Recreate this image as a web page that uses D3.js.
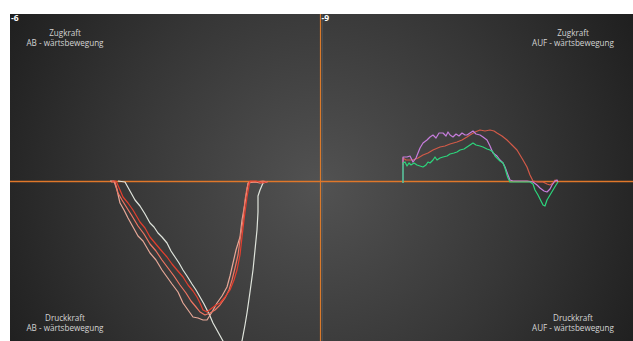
<!DOCTYPE html>
<html>
<head>
<meta charset="utf-8">
<script src="https://cdn.jsdelivr.net/npm/d3@7"></script>
<style>
  html, body { margin: 0; padding: 0; background: #fff; }
  svg { display: block; }
</style>
</head>
<body>
<div id="chart"></div>
<script>
// position (x) vs force (y), both in raw sensor units, 0/0 at the crosshair
const leftWhite = [[-202,0],[-195,-1],[-190,-10],[-185,-19],[-180,-25],[-175,-33],[-170,-42],[-166,-46],[-162,-52],[-158,-56],[-153,-62],[-149,-70],[-145,-76],[-141,-82],[-137,-89],[-133,-95],[-128,-103],[-124,-109],[-120,-116],[-116,-123],[-113,-129],[-110,-135],[-107,-142],[-102,-151],[-97,-160],[-92,-169],[-82,-169],[-78,-160],[-75,-144],[-73,-132],[-70,-111],[-67,-89],[-65,-69],[-63,-49],[-62,-31],[-62,-15],[-60,-9],[-57,-2],[-53,-1]];
const leftPink = [[-210,0],[-206,0],[-203,-9],[-200,-22],[-196,-29],[-192,-37],[-187,-46],[-182,-55],[-177,-60],[-170,-72],[-164,-79],[-158,-89],[-153,-96],[-148,-103],[-142,-111],[-137,-122],[-132,-129],[-127,-136],[-122,-137],[-117,-139],[-113,-139],[-108,-131],[-103,-122],[-98,-115],[-93,-106],[-90,-95],[-87,-82],[-84,-69],[-80,-56],[-78,-39],[-75,-22],[-73,-9],[-72,-2],[-65,-1],[-60,-2],[-55,-1]];
const leftSalmon = [[-209,-1],[-205,-1],[-202,-12],[-198,-19],[-193,-27],[-188,-35],[-182,-45],[-176,-53],[-170,-63],[-164,-70],[-158,-79],[-152,-87],[-146,-95],[-140,-104],[-134,-112],[-129,-120],[-124,-126],[-120,-131],[-115,-134],[-110,-132],[-105,-129],[-100,-124],[-95,-117],[-91,-109],[-88,-99],[-85,-87],[-82,-74],[-80,-59],[-77,-39],[-75,-19],[-73,-7],[-71,-1],[-64,-1],[-57,0],[-52,-1]];
const leftRed = [[-208,0],[-204,0],[-200,-9],[-197,-16],[-192,-22],[-187,-29],[-180,-41],[-175,-47],[-170,-56],[-165,-62],[-160,-68],[-153,-76],[-148,-83],[-143,-89],[-137,-96],[-132,-104],[-127,-110],[-123,-116],[-120,-122],[-117,-129],[-113,-131],[-108,-127],[-104,-124],[-100,-122],[-95,-116],[-90,-109],[-86,-99],[-83,-89],[-80,-74],[-78,-56],[-76,-39],[-73,-16],[-71,-5],[-70,0],[-64,0],[-58,-2],[-53,-1]];

const rightRed = [[83,16],[83,23],[86,21],[90,21],[93,21],[98,23],[103,26],[108,28],[113,31],[120,34],[125,35],[130,37],[137,39],[142,41],[147,44],[150,46],[155,49],[160,51],[165,50],[170,51],[174,50],[177,48],[182,45],[187,41],[192,36],[197,31],[200,26],[203,21],[207,14],[210,6],[213,0],[218,-1],[223,-1],[227,-3],[230,-4],[233,-2],[235,1],[238,0]];
const rightPurple = [[83,-2],[83,24],[87,24],[90,25],[93,19],[96,23],[98,28],[100,33],[103,38],[107,41],[110,44],[113,46],[116,43],[119,48],[123,48],[126,45],[128,49],[130,46],[133,44],[136,47],[139,45],[142,48],[145,46],[147,46],[150,48],[153,50],[156,47],[160,46],[163,44],[167,41],[170,35],[173,28],[177,25],[180,21],[183,18],[185,14],[188,6],[190,1],[193,0],[200,0],[207,0],[213,-1],[217,-4],[220,-7],[224,-10],[227,-11],[230,-8],[232,-4],[235,0],[237,1],[238,-1]];
const rightGreen = [[83,-2],[83,18],[85,19],[87,15],[89,18],[91,16],[94,18],[97,16],[100,15],[103,14],[106,16],[108,19],[110,18],[113,21],[115,24],[117,21],[120,23],[123,24],[127,25],[130,27],[134,28],[137,29],[140,31],[144,32],[147,34],[150,36],[153,38],[156,36],[160,35],[163,34],[167,32],[170,31],[173,29],[175,25],[177,23],[180,20],[183,18],[185,13],[187,6],[188,3],[190,-1],[195,-1],[200,-1],[205,-1],[210,-1],[213,-3],[215,-9],[218,-14],[221,-20],[223,-24],[225,-25],[227,-19],[230,-14],[233,-9],[236,-4],[238,-1]];

const cornerLabels = ['-6', '-9'];

const width = 633, height = 341;
const plot = { left: 10, top: 14, right: 633, bottom: 341 };

const x = d3.scaleLinear().domain([-310, 313]).range([plot.left, plot.right]);
const y = d3.scaleLinear().domain([167, -160]).range([plot.top, plot.bottom]);

const svg = d3.select('#chart').append('svg')
    .attr('width', width)
    .attr('height', height);

const defs = svg.append('defs');
const grad = defs.append('radialGradient')
    .attr('id', 'bg')
    .attr('gradientUnits', 'userSpaceOnUse')
    .attr('cx', x(0)).attr('cy', y(-5))
    .attr('r', 370);
grad.append('stop').attr('offset', '0').attr('stop-color', '#525252');
grad.append('stop').attr('offset', '0.55').attr('stop-color', '#363636');
grad.append('stop').attr('offset', '1').attr('stop-color', '#1d1d1d');

defs.append('clipPath').attr('id', 'clip')
  .append('rect')
    .attr('x', plot.left).attr('y', plot.top)
    .attr('width', plot.right - plot.left)
    .attr('height', plot.bottom - plot.top);

svg.append('rect')
    .attr('x', plot.left).attr('y', plot.top)
    .attr('width', plot.right - plot.left)
    .attr('height', plot.bottom - plot.top)
    .attr('fill', 'url(#bg)');

// crosshair
const cross = svg.append('g');
cross.append('line')
    .attr('x1', x(0) + 2.5).attr('x2', x(0) + 2.5)
    .attr('y1', plot.top).attr('y2', plot.bottom)
    .attr('stroke', '#6a7686').attr('stroke-opacity', 0.3);
cross.append('line')
    .attr('x1', x(0) + 0.5).attr('x2', x(0) + 0.5)
    .attr('y1', plot.top).attr('y2', plot.bottom)
    .attr('stroke', '#d97a2c').attr('stroke-width', 1.2);
cross.append('line')
    .attr('x1', plot.left).attr('x2', plot.right)
    .attr('y1', y(0) + 0.5).attr('y2', y(0) + 0.5)
    .attr('stroke', '#e0772a').attr('stroke-width', 1.6);

const line = d3.line()
    .x(d => x(d[0]))
    .y(d => y(d[1]));

const series = [
  { data: leftWhite, color: '#dfe4dc' },
  { data: leftPink, color: '#e6a898' },
  { data: leftSalmon, color: '#ef7562' },
  { data: leftRed, color: '#e43f2e' },
  { data: rightRed, color: '#d25a48' },
  { data: rightPurple, color: '#c67ddc' },
  { data: rightGreen, color: '#2cd67c' }
];

const curves = svg.append('g').attr('clip-path', 'url(#clip)');
series.forEach(s => {
  curves.append('path')
      .datum(s.data)
      .attr('d', line)
      .attr('fill', 'none')
      .attr('stroke', s.color)
      .attr('stroke-width', 1.2)
      .attr('stroke-linejoin', 'round');
});

// corner labels of the two panels
svg.selectAll('text.corner')
  .data(cornerLabels)
  .join('text')
    .attr('class', 'corner')
    .attr('x', (d, i) => i === 0 ? plot.left + 1 : x(0) + 1.5)
    .attr('y', plot.top + 6.5)
    .attr('font-family', '"Open Sans", sans-serif')
    .attr('font-size', 8.5)
    .attr('font-weight', 'bold')
    .attr('fill', '#ffffff')
    .text(d => d);

const notes = [
  { cx: 65, lines: ['Zugkraft', 'AB - wärtsbewegung'], top: 36 },
  { cx: 573, lines: ['Zugkraft', 'AUF - wärtsbewegung'], top: 36 },
  { cx: 65, lines: ['Druckkraft', 'AB - wärtsbewegung'], top: 321 },
  { cx: 573, lines: ['Druckkraft', 'AUF - wärtsbewegung'], top: 321 }
];
notes.forEach(n => {
  n.lines.forEach((t, i) => {
    svg.append('text')
        .attr('x', n.cx)
        .attr('y', n.top + i * 9.5)
        .attr('text-anchor', 'middle')
        .attr('font-family', '"Open Sans", sans-serif')
        .attr('font-size', 8.1)
        .attr('fill', '#d4d4d4')
        .text(t);
  });
});
</script>
</body>
</html>
